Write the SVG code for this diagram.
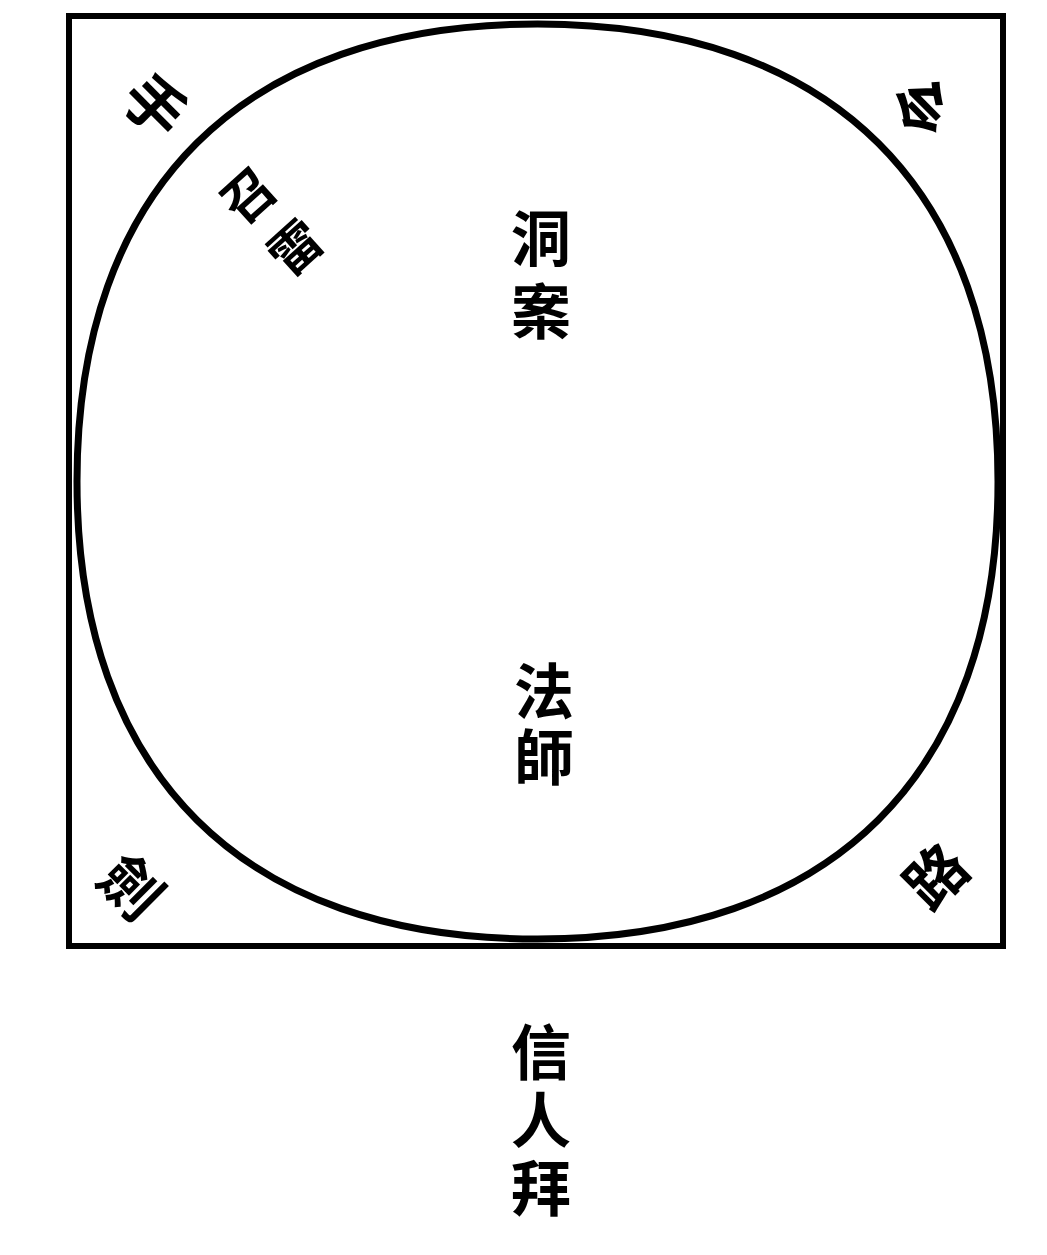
<svg xmlns="http://www.w3.org/2000/svg" width="1047" height="1255" viewBox="0 0 1047 1255">
<style>
.t{font-family:"Noto Sans CJK TC","Noto Sans CJK SC",sans-serif;font-weight:700;fill:#000;text-anchor:middle;dominant-baseline:central}
.v{writing-mode:vertical-rl;font-size:60px}
.c{font-size:60px}
.s{font-size:52px}
</style>
<rect width="1047" height="1255" fill="#fff"/>
<g id="frame">
<rect x="69" y="16" width="934" height="930" fill="none" stroke="#000" stroke-width="6"/>
</g>
<g id="circle">
<path d="M537.5,24 C832,24 998,189 998,481.5 C998,774 832,939 537.5,939 C243,939 77,774 77,481.5 C77,189 243,24 537.5,24 Z" fill="none" stroke="#000" stroke-width="7"/>
</g>
<g id="corner-tl"><text class="t c" transform="translate(158,103) rotate(45)">手</text></g>
<g id="corner-tr"><text class="t c" transform="translate(921,108) rotate(-135)">令</text></g>
<g id="corner-bl"><text class="t c" transform="translate(134,884) rotate(45)">劍</text></g>
<g id="corner-br"><text class="t c" transform="translate(933,873) rotate(-45)">路</text></g>
<g id="zhaolei">
<text class="t s" transform="translate(246,193) rotate(-42)">召</text>
<text class="t s" transform="translate(293,245) rotate(-42)">雷</text>
</g>
<g id="dongan">
<text class="t v" x="541" y="281" letter-spacing="13">洞案</text>
</g>
<g id="fashi">
<text class="t v" x="544" y="727" letter-spacing="6">法師</text>
</g>
<g id="xinrenbai">
<text class="t v" x="541" y="1124" letter-spacing="8">信人拜</text>
</g>
</svg>
